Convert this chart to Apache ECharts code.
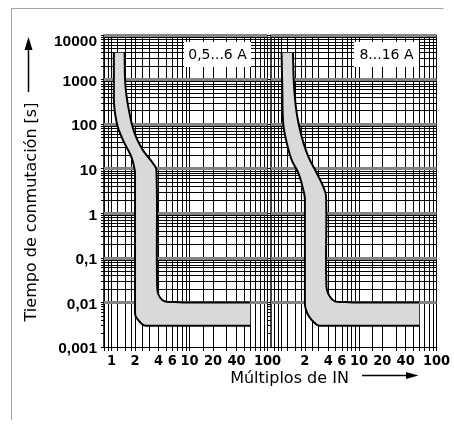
<!DOCTYPE html>
<html>
<head>
<meta charset="utf-8">
<script src="https://cdn.jsdelivr.net/npm/echarts@6/dist/echarts.min.js"></script>
<style>
  html, body { margin: 0; padding: 0; background: #ffffff; }
  #chart { width: 454px; height: 432px; }
</style>
</head>
<body>
<div id="chart"></div>
<script>
// Tick labels
const xTicksLeft = [1, 2, 4, 6, 10, 20, 40, 100];
const xTicksRight = [2, 4, 6, 10, 20, 40, 100];
const yTicks = [0.001, 0.01, 0.1, 1, 10, 100, 1000, 10000];
const yTickLabels = ['0,001', '0,01', '0,1', '1', '10', '100', '1000', '10000'];

// Grid lines of the log paper
const xGridLines = [0.8, 0.9, 1, 1.2, 1.5, 1.8, 2, 2.5, 3, 4, 5, 6, 7, 8, 9, 10, 15, 20, 30, 40, 50, 60, 70, 80, 90, 100];
const yDecades = [0.001, 0.01, 0.1, 1, 10, 100, 1000];
const yMinorSteps = [2, 3, 4, 5, 6, 7, 8, 9];

// Panel captions
const panelCaptions = ['0,5...6 A', '8...16 A'];

// Tripping band, 0,5...6 A  [multiple of IN, time in s]
const leftLowerBound = [
  [1.07, 4000], [1.07, 400], [1.17, 104], [1.40, 44], [1.79, 18.6], [1.98, 9.3],
  [2.0, 6.6], [2.0, 0.0058], [2.29, 0.0037], [2.79, 0.003], [60, 0.003]
];
const leftUpperBound = [
  [1.47, 4000], [1.51, 692], [1.70, 175], [1.98, 62], [2.52, 26.3], [3.40, 13.2],
  [3.76, 9.35], [3.85, 0.0225], [4.14, 0.0134], [5.06, 0.0104], [60, 0.01]
];

// Tripping band, 8...16 A
const rightLowerBound = [
  [1.0, 4000], [1.02, 692], [1.05, 104], [1.17, 37], [1.35, 15.7], [1.65, 7.9],
  [1.91, 3.3], [2.0, 2.0], [2.0, 0.0096], [2.15, 0.0057], [2.57, 0.0037], [3.14, 0.003], [60, 0.003]
];
const rightUpperBound = [
  [1.40, 4000], [1.45, 692], [1.57, 175], [1.82, 52], [2.22, 18.6], [2.85, 7.9],
  [3.46, 3.9], [3.75, 2.36], [3.8, 0.0225], [4.23, 0.0134], [5.15, 0.0104], [60, 0.01]
];

const yMinorLines = [];
yDecades.forEach(d => yMinorSteps.forEach(s => yMinorLines.push(+(d * s).toPrecision(6))));
const yMajorLines = yTicks.slice(1);
const yAllLines = yTicks.concat(yMinorLines);

// Smooth a pixel polyline: straight where the run is horizontal/vertical,
// tangent-continuous cubic pieces elsewhere.
function smoothPoints(pts) {
  const n = pts.length;
  const straight = (a, b) => Math.abs(a[0] - b[0]) < 0.01 || Math.abs(a[1] - b[1]) < 0.01;
  const unit = (dx, dy) => { const l = Math.hypot(dx, dy) || 1; return [dx / l, dy / l]; };
  const dirs = pts.map((p, i) => {
    const prev = pts[i - 1], next = pts[i + 1];
    if (next && straight(p, next)) return unit(next[0] - p[0], next[1] - p[1]);
    if (prev && straight(prev, p)) return unit(p[0] - prev[0], p[1] - prev[1]);
    const a = prev || p, b = next || p;
    return unit(b[0] - a[0], b[1] - a[1]);
  });
  const out = [pts[0]];
  for (let i = 0; i < n - 1; i++) {
    const p1 = pts[i], p2 = pts[i + 1];
    if (straight(p1, p2)) { out.push(p2); continue; }
    const len = Math.hypot(p2[0] - p1[0], p2[1] - p1[1]) / 3;
    const c1 = [p1[0] + dirs[i][0] * len, p1[1] + dirs[i][1] * len];
    const c2 = [p2[0] - dirs[i + 1][0] * len, p2[1] - dirs[i + 1][1] * len];
    const steps = 20;
    for (let s = 1; s <= steps; s++) {
      const t = s / steps, u = 1 - t;
      out.push([
        u * u * u * p1[0] + 3 * u * u * t * c1[0] + 3 * u * t * t * c2[0] + t * t * t * p2[0],
        u * u * u * p1[1] + 3 * u * u * t * c1[1] + 3 * u * t * t * c2[1] + t * t * t * p2[1]
      ]);
    }
  }
  return out;
}

function bandRenderer(lower, upper) {
  return function (params, api) {
    const lo = smoothPoints(lower.map(p => api.coord(p)));
    const up = smoothPoints(upper.map(p => api.coord(p)));
    const poly = lo.concat(up.slice().reverse());
    return {
      type: 'group',
      children: [
        { type: 'polygon', shape: { points: poly }, style: { fill: '#d9d9d9', stroke: null } },
        { type: 'polyline', shape: { points: lo }, style: { fill: null, stroke: '#000', lineWidth: 2, lineJoin: 'round' } },
        { type: 'polyline', shape: { points: up }, style: { fill: null, stroke: '#000', lineWidth: 2, lineJoin: 'round' } }
      ]
    };
  };
}

function gridLineSeries(idx) {
  const lines = [];
  xGridLines.forEach(v => lines.push({ xAxis: v }));
  yMinorLines.forEach(v => lines.push({ yAxis: v }));
  yMajorLines.forEach(v => lines.push({ yAxis: v, lineStyle: { color: '#858585', width: 3 } }));
  return {
    type: 'line', xAxisIndex: idx, yAxisIndex: idx, data: [], z: 2, silent: true,
    markLine: {
      silent: true, animation: false, symbol: ['none', 'none'],
      label: { show: false },
      lineStyle: { color: '#000', width: 1, type: 'solid' },
      emphasis: { disabled: true },
      data: lines
    }
  };
}

const xLabelFont = { fontFamily: '"Liberation Sans Narrow", "DejaVu Sans Condensed", sans-serif', fontWeight: 'bold', fontSize: 14.5, color: '#000' };

function xAxisFor(idx, min, ticks) {
  return {
    type: 'log', gridIndex: idx, min: min, max: 100, logBase: 10,
    axisLine: { show: true, lineStyle: { color: '#000', width: 1 } },
    axisTick: { show: true, customValues: xGridLines, length: 4, lineStyle: { color: '#000', width: 1 } },
    axisLabel: Object.assign({ customValues: ticks, margin: 7, formatter: v => String(+v.toPrecision(6)) }, xLabelFont),
    splitLine: { show: false }, minorTick: { show: false }
  };
}

function yAxisFor(idx, showLabels) {
  return {
    type: 'log', gridIndex: idx, min: 0.001, max: 10000, logBase: 10,
    axisLine: { show: true, lineStyle: { color: '#000', width: 1.5 } },
    axisTick: { show: true, customValues: yAllLines, length: 3, lineStyle: { color: '#000', width: 1 } },
    axisLabel: {
      show: showLabels, customValues: yTicks, margin: 7, padding: [4, 0, 0, 0],
      fontFamily: '"Liberation Sans", Arial, sans-serif', fontWeight: 'bold', fontSize: 15.5, color: '#000',
      rich: { top: { fontFamily: '"Liberation Sans", Arial, sans-serif', fontWeight: 'bold', fontSize: 15.5, color: '#000', padding: [10, 0, 0, 0] } },
      formatter: v => {
        const i = yTicks.findIndex(t => Math.abs(Math.log10(t) - Math.log10(v)) < 1e-6);
        if (i < 0) return '';
        return i === yTicks.length - 1 ? '{top|' + yTickLabels[i] + '}' : yTickLabels[i];
      }
    },
    splitLine: { show: false }, minorTick: { show: false }
  };
}

const titleFont = '16px "DejaVu Sans", sans-serif';
const captionFont = '14px "DejaVu Sans", sans-serif';

const option = {
  animation: false,
  backgroundColor: '#ffffff',
  grid: [
    { left: 104, top: 35, width: 163.5, height: 312, outerBoundsMode: 'none', containLabel: false },
    { left: 271, top: 35, width: 165.5, height: 312, outerBoundsMode: 'none', containLabel: false }
  ],
  xAxis: [xAxisFor(0, 0.8, xTicksLeft), xAxisFor(1, 0.73, xTicksRight)],
  yAxis: [yAxisFor(0, true), yAxisFor(1, false)],
  series: [
    gridLineSeries(0),
    gridLineSeries(1),
    { type: 'custom', xAxisIndex: 0, yAxisIndex: 0, z: 5, silent: true, clip: true,
      data: [leftLowerBound[0]], renderItem: bandRenderer(leftLowerBound, leftUpperBound) },
    { type: 'custom', xAxisIndex: 1, yAxisIndex: 1, z: 5, silent: true, clip: true,
      data: [rightLowerBound[0]], renderItem: bandRenderer(rightLowerBound, rightUpperBound) }
  ],
  graphic: [
    // outer frame
    { type: 'polyline', z: 20, shape: { points: [[11.5, 420], [11.5, 8.5], [443.5, 8.5]] },
      style: { stroke: '#a0a0a0', lineWidth: 1, fill: null } },
    // panel captions
    { type: 'rect', z: 20, shape: { x: 184, y: 42, width: 67, height: 25 }, style: { fill: '#fff' } },
    { type: 'text', z: 21, x: 217.5, y: 55, style: { text: panelCaptions[0], font: captionFont, fill: '#000', align: 'center', verticalAlign: 'middle' } },
    { type: 'rect', z: 20, shape: { x: 354, y: 42, width: 65, height: 25 }, style: { fill: '#fff' } },
    { type: 'text', z: 21, x: 386.5, y: 55, style: { text: panelCaptions[1], font: captionFont, fill: '#000', align: 'center', verticalAlign: 'middle' } },
    // y axis title with arrow
    { type: 'text', z: 20, x: 32, y: 212, rotation: Math.PI / 2,
      style: { text: 'Tiempo de conmutación [s]', font: titleFont, fill: '#000', align: 'center', verticalAlign: 'middle' } },
    { type: 'line', z: 20, shape: { x1: 28.5, y1: 92, x2: 28.5, y2: 49 }, style: { stroke: '#000', lineWidth: 1.5 } },
    { type: 'polygon', z: 20, shape: { points: [[24.5, 50], [32.5, 50], [28.5, 37]] }, style: { fill: '#000' } },
    // x axis title with arrow
    { type: 'text', z: 20, x: 289.5, y: 379, style: { text: 'Múltiplos de IN', font: titleFont, fill: '#000', align: 'center', verticalAlign: 'middle' } },
    { type: 'line', z: 20, shape: { x1: 362, y1: 375.5, x2: 408, y2: 375.5 }, style: { stroke: '#000', lineWidth: 1.5 } },
    { type: 'polygon', z: 20, shape: { points: [[406, 372], [406, 379], [418.5, 375.5]] }, style: { fill: '#000' } }
  ]
};

const chart = echarts.init(document.getElementById('chart'), null, { renderer: 'canvas' });
chart.setOption(option);
</script>
</body>
</html>
